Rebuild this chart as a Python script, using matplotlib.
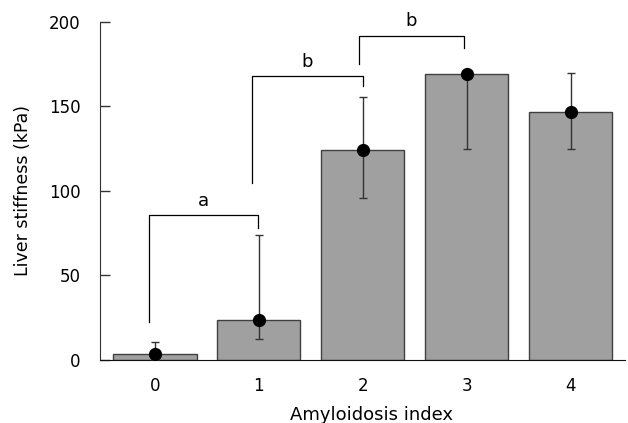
import matplotlib
matplotlib.use("Agg")
import matplotlib.pyplot as plt
import numpy as np

# data
index = [0, 1, 2, 3, 4]
stiffness = [3.5, 23.5, 124.3, 169.3, 146.5]
err_low = [0.0, 12.2, 95.7, 124.6, 124.6]
err_high = [10.6, 73.8, 155.8, 169.3, 169.8]

# significance brackets: (x left, x right, bar height, left leg end, right leg end, label)
brackets = [
    (-0.06, 0.99, 86.0, 22.7, 78.0, "a"),
    (0.93, 2.0, 167.8, 105.0, 162.0, "b"),
    (1.96, 2.97, 192.0, 175.0, 184.7, "b"),
]

plt.rcParams['font.family'] = ['DejaVu Sans']
plt.rcParams['font.size'] = 12

fig = plt.figure(figsize=(6.28, 4.23), dpi=100)
ax = fig.add_axes([0.159, 0.149, 0.836, 0.799])

x = np.array(index)
y = np.array(stiffness)
ax.bar(x, y, width=0.8, color="#a0a0a0", edgecolor="#404040", linewidth=1.0, zorder=2)

yerr = [y - np.array(err_low), np.array(err_high) - y]
ax.errorbar(x, y, yerr=yerr, fmt="none", ecolor="#333333", elinewidth=1.0,
            capsize=3, capthick=1.0, zorder=3)
ax.plot(x, y, "o", color="black", markersize=8.5, zorder=4)

for x0, x1, h, l0, l1, lab in brackets:
    ax.plot([x0, x0, x1, x1], [l0, h, h, l1], color="black", lw=0.9, zorder=3)
    ax.text((x0 + x1) / 2, h + 3, lab, ha="center", va="bottom", fontsize=13)

ax.set_xlim(-0.53, 4.52)
ax.set_ylim(0, 200)
ax.set_yticks([0, 50, 100, 150, 200])
ax.set_xticks(index)
ax.tick_params(axis="y", direction="in", length=7, width=1, color="#333333", pad=14)
ax.tick_params(axis="x", length=0, pad=12)
ax.spines["top"].set_visible(False)
ax.spines["right"].set_visible(False)
ax.spines["left"].set_color("#333333")
ax.spines["bottom"].set_color("#111111")

ax.set_xlabel("Amyloidosis index", labelpad=8, fontsize=13)
ax.xaxis.set_label_coords(0.518, -0.135)
ax.set_ylabel("Liver stiffness (kPa)", labelpad=12, fontsize=12.5)

fig.savefig("out.png", dpi=100)
